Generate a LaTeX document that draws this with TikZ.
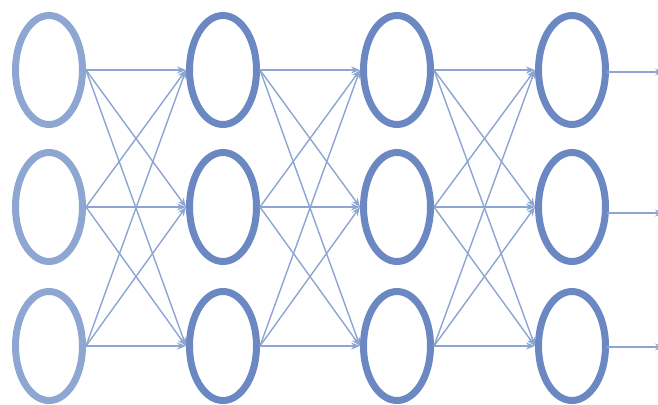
\documentclass[tikz,border=0pt]{standalone}
\usetikzlibrary{arrows.meta,shapes.geometric}
\definecolor{lightring}{HTML}{8EA7D2}
\definecolor{darkring}{HTML}{6B88C2}
\definecolor{edgecol}{HTML}{8DA5D2}
\tikzset{
  neuron/.style={ellipse, draw=darkring, line width=7pt, minimum width=67pt, minimum height=109pt, inner sep=0pt, fill=white},
  inneuron/.style={neuron, draw=lightring},
  conn/.style={draw=edgecol, line width=1.4pt, -{Stealth[length=9pt,width=7pt]}}
}
\begin{document}
\begin{tikzpicture}[x=1pt,y=-1pt]
\useasboundingbox (0,0) rectangle (658,404);
\fill[white] (0,0) rectangle (658,404);
\foreach \r/\y in {1/70,2/207,3/346}{
  \node[inneuron] (n1\r) at (49,\y) {};
  \node[neuron] (n2\r) at (223,\y) {};
  \node[neuron] (n3\r) at (397,\y) {};
  \node[neuron] (n4\r) at (572,\y) {};
}
\coordinate (o1) at (664,72);
\coordinate (o2) at (664,213);
\coordinate (o3) at (664,347);
\foreach \a/\b in {1/2,2/3,3/4}{
  \foreach \i in {1,2,3}{
    \foreach \j in {1,2,3}{
      \draw[conn] (n\a\i.east) -- (n\b\j.west);
    }
  }
}
\foreach \r in {1,2,3}{
  \draw[conn] ([xshift=-2pt]n4\r.east |- o\r) -- (o\r);
}
\end{tikzpicture}
\end{document}
